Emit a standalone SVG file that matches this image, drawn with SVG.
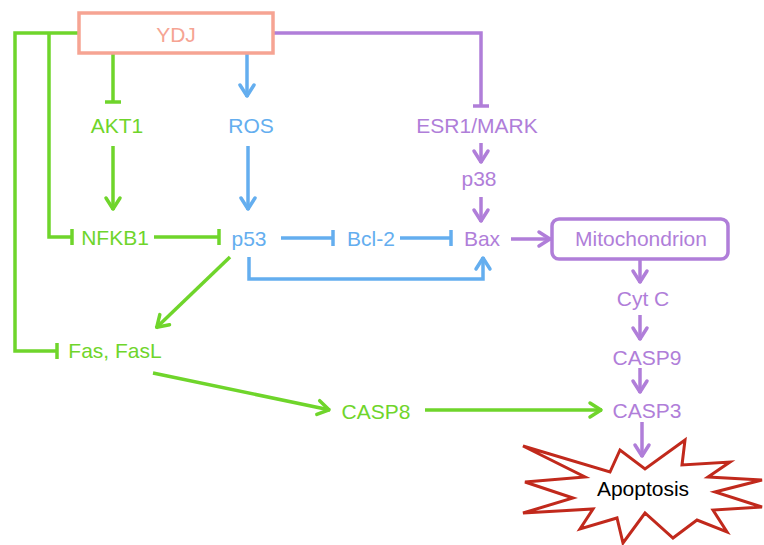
<svg xmlns="http://www.w3.org/2000/svg" width="764" height="545" viewBox="0 0 764 545">
<style>
text{font-family:"Liberation Sans",Arial,sans-serif;font-size:21px;text-anchor:middle}
.g{fill:#6FD52B}.b{fill:#64AEEF}.p{fill:#B07ED9}.s{fill:#F6A493}.k{fill:#000}
.lg{fill:none;stroke:#6FD52B;stroke-width:3.5}
.lb{fill:none;stroke:#64AEEF;stroke-width:3.5}
.lp{fill:none;stroke:#B07ED9;stroke-width:3.5}
</style>
<defs>
<marker id="ag" markerUnits="userSpaceOnUse" orient="auto" refX="0" refY="0" markerWidth="30" markerHeight="30" overflow="visible"><path d="M-12,-7 L-1,0 L-12,7" fill="none" stroke="#6FD52B" stroke-width="3.5" stroke-linecap="round" stroke-linejoin="round"/></marker>
<marker id="ab" markerUnits="userSpaceOnUse" orient="auto" refX="0" refY="0" markerWidth="30" markerHeight="30" overflow="visible"><path d="M-12,-7 L-1,0 L-12,7" fill="none" stroke="#64AEEF" stroke-width="3.5" stroke-linecap="round" stroke-linejoin="round"/></marker>
<marker id="ap" markerUnits="userSpaceOnUse" orient="auto" refX="0" refY="0" markerWidth="30" markerHeight="30" overflow="visible"><path d="M-12,-7 L-1,0 L-12,7" fill="none" stroke="#B07ED9" stroke-width="3.5" stroke-linecap="round" stroke-linejoin="round"/></marker>
<marker id="tg" markerUnits="userSpaceOnUse" orient="auto" refX="0" refY="0" markerWidth="30" markerHeight="30" overflow="visible"><path d="M0,-8 L0,8" stroke="#6FD52B" stroke-width="3.5"/></marker>
<marker id="tb" markerUnits="userSpaceOnUse" orient="auto" refX="0" refY="0" markerWidth="30" markerHeight="30" overflow="visible"><path d="M0,-8 L0,8" stroke="#64AEEF" stroke-width="3.5"/></marker>
<marker id="tp" markerUnits="userSpaceOnUse" orient="auto" refX="0" refY="0" markerWidth="30" markerHeight="30" overflow="visible"><path d="M0,-8 L0,8" stroke="#B07ED9" stroke-width="3.5"/></marker>
</defs>

<g id="apoptosis">
<polygon points="685,440 682,465 730,462 708,477 762,480 715,492 762,507 713,510 727,532 697,520 673,538 645,513 623,543 617,518 580,529 593,509 523,513 573,498 525,482 585,477 523,446 610,472 620,450 645,469" fill="#fff" stroke="#C1291C" stroke-width="3"/>
<text class="k" x="643" y="496">Apoptosis</text>
</g>

<g id="connectors">
<path class="lg" d="M79,33 H15 V351 H57" marker-end="url(#tg)"/>
<path class="lg" d="M49,33 V237 H72" marker-end="url(#tg)"/>
<path class="lg" d="M113,53 V102" marker-end="url(#tg)"/>
<path class="lg" d="M113,146 V210" marker-end="url(#ag)"/>
<path class="lg" d="M154,237 H219" marker-end="url(#tg)"/>
<path class="lg" d="M230,257 L156,328" marker-end="url(#ag)"/>
<path class="lg" d="M153,373 L330,410" marker-end="url(#ag)"/>
<path class="lg" d="M425,410 H602" marker-end="url(#ag)"/>

<path class="lb" d="M247,53 V97" marker-end="url(#ab)"/>
<path class="lb" d="M248,146 V210" marker-end="url(#ab)"/>
<path class="lb" d="M281,238 H333" marker-end="url(#tb)"/>
<path class="lb" d="M400,238 H451" marker-end="url(#tb)"/>
<path class="lb" d="M249,257 V279 H483 V257" marker-end="url(#ab)"/>

<path class="lp" d="M273,33 H481 V106" marker-end="url(#tp)"/>
<path class="lp" d="M481,143 V163" marker-end="url(#ap)"/>
<path class="lp" d="M481,197 V222" marker-end="url(#ap)"/>
<path class="lp" d="M511,239 H551" marker-end="url(#ap)"/>
<path class="lp" d="M640,260 V283" marker-end="url(#ap)"/>
<path class="lp" d="M640,315 V340" marker-end="url(#ap)"/>
<path class="lp" d="M640,368 V393" marker-end="url(#ap)"/>
<path class="lp" d="M642,422 V457" marker-end="url(#ap)"/>
</g>

<g id="ydj">
<rect x="79" y="13" width="194" height="40" fill="#fff" stroke="#F6A493" stroke-width="3.5"/>
<text class="s" x="176" y="42">YDJ</text>
</g>
<g id="akt1"><text class="g" x="117" y="133">AKT1</text></g>
<g id="ros"><text class="b" x="251" y="133">ROS</text></g>
<g id="esr1"><text class="p" x="477" y="133">ESR1/MARK</text></g>
<g id="p38"><text class="p" x="479" y="186">p38</text></g>
<g id="nfkb1"><text class="g" x="115" y="245">NFKB1</text></g>
<g id="p53"><text class="b" x="249" y="246">p53</text></g>
<g id="bcl2"><text class="b" x="371" y="246">Bcl-2</text></g>
<g id="bax"><text class="p" x="482" y="246">Bax</text></g>
<g id="mitochondrion">
<rect x="552" y="219" width="176" height="40" rx="7" fill="#fff" stroke="#B07ED9" stroke-width="3.5"/>
<text class="p" x="641" y="246">Mitochondrion</text>
</g>
<g id="cytc"><text class="p" x="643" y="306">Cyt C</text></g>
<g id="casp9"><text class="p" x="647" y="365">CASP9</text></g>
<g id="casp3"><text class="p" x="647" y="418">CASP3</text></g>
<g id="fas"><text class="g" x="115" y="358">Fas, FasL</text></g>
<g id="casp8"><text class="g" x="376" y="419">CASP8</text></g>
</svg>
